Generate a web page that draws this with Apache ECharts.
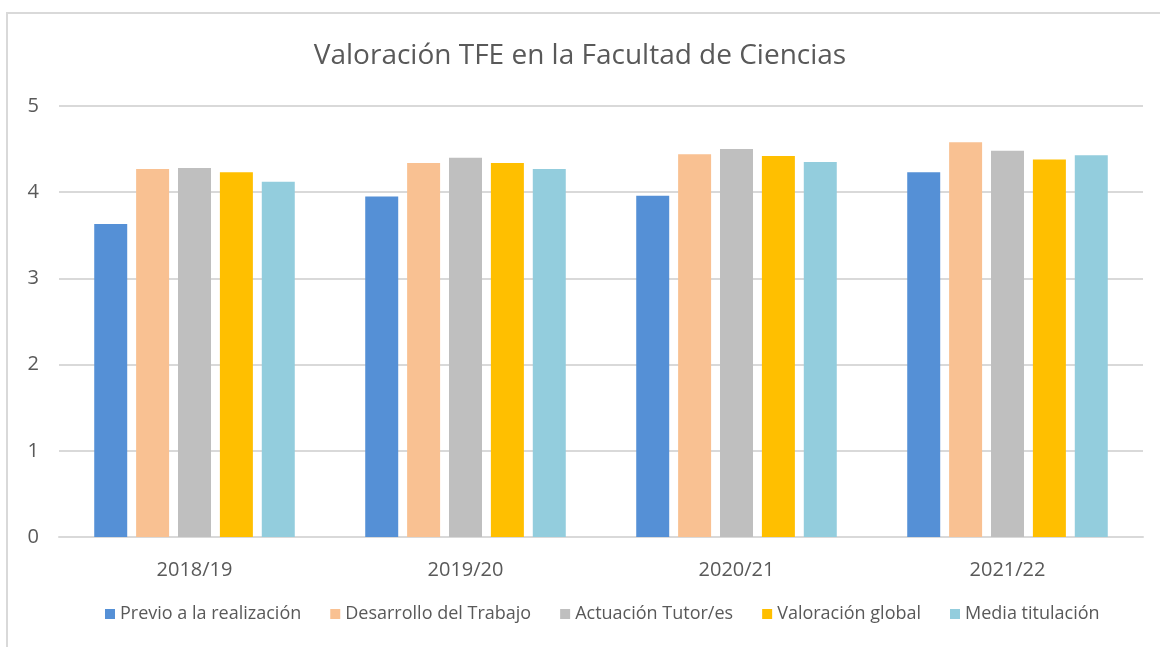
<!DOCTYPE html>
<html>
<head>
<meta charset="utf-8">
<script src="https://cdn.jsdelivr.net/npm/echarts@6/dist/echarts.min.js"></script>
<style>
  html, body { margin: 0; padding: 0; background: #fff; }
  #chart { width: 1160px; height: 647px; }
</style>
</head>
<body>
<div id="chart"></div>
<script>
// datos
var cursos = ['2018/19', '2019/20', '2020/21', '2021/22'];
var previo = [3.63, 3.95, 3.96, 4.23];
var desarrollo = [4.27, 4.34, 4.44, 4.58];
var actuacion = [4.28, 4.40, 4.50, 4.48];
var valoracion = [4.23, 4.34, 4.42, 4.38];
var media = [4.12, 4.27, 4.35, 4.43];
var yTicks = [0, 1, 2, 3, 4, 5];

var nombres = ['Previo a la realización', 'Desarrollo del Trabajo', 'Actuación Tutor/es', 'Valoración global', 'Media titulación'];
var colores = ['#5590d6', '#f9c192', '#bfbfbf', '#ffbf00', '#93cddd'];
var valores = [previo, desarrollo, actuacion, valoracion, media];

var fuente = '"Open Sans", "Noto Sans", sans-serif';

var chart = echarts.init(document.getElementById('chart'));

var series = nombres.map(function (n, i) {
  return {
    name: n,
    type: 'bar',
    data: valores[i],
    barGap: '27%',
    barCategoryGap: '26%',
    itemStyle: { color: colores[i] }
  };
});

chart.setOption({
  animation: false,
  textStyle: { fontFamily: fuente },
  title: {
    text: 'Valoración TFE en la Facultad de Ciencias',
    left: 'center',
    top: 37,
    textStyle: { fontFamily: fuente, fontSize: 28, fontWeight: 'normal', color: '#595959' }
  },
  // marco exterior
  graphic: [{
    type: 'rect',
    shape: { x: 7, y: 13, width: 1170, height: 660 },
    style: { fill: 'none', stroke: '#d9d9d9', lineWidth: 2 },
    silent: true
  }],
  legend: {
    data: nombres,
    bottom: 19,
    left: 100,
    itemWidth: 10,
    itemHeight: 10,
    itemGap: 29,
    icon: 'rect',
    textStyle: { fontFamily: fuente, fontSize: 18, color: '#595959' }
  },
  grid: { left: 59, right: 17, top: 106, bottom: 110 },
  xAxis: {
    type: 'category',
    data: cursos,
    axisLine: { lineStyle: { color: '#d9d9d9', width: 2 } },
    axisTick: { show: false },
    axisLabel: { fontSize: 20, color: '#595959', margin: 23, fontFamily: fuente }
  },
  yAxis: {
    type: 'value',
    min: yTicks[0],
    max: yTicks[yTicks.length - 1],
    interval: 1,
    axisLine: { show: false },
    axisTick: { show: false },
    axisLabel: { fontSize: 20, color: '#595959', margin: 20, fontFamily: fuente },
    splitLine: { lineStyle: { color: '#d9d9d9', width: 2 } }
  },
  series: series
});
</script>
</body>
</html>
